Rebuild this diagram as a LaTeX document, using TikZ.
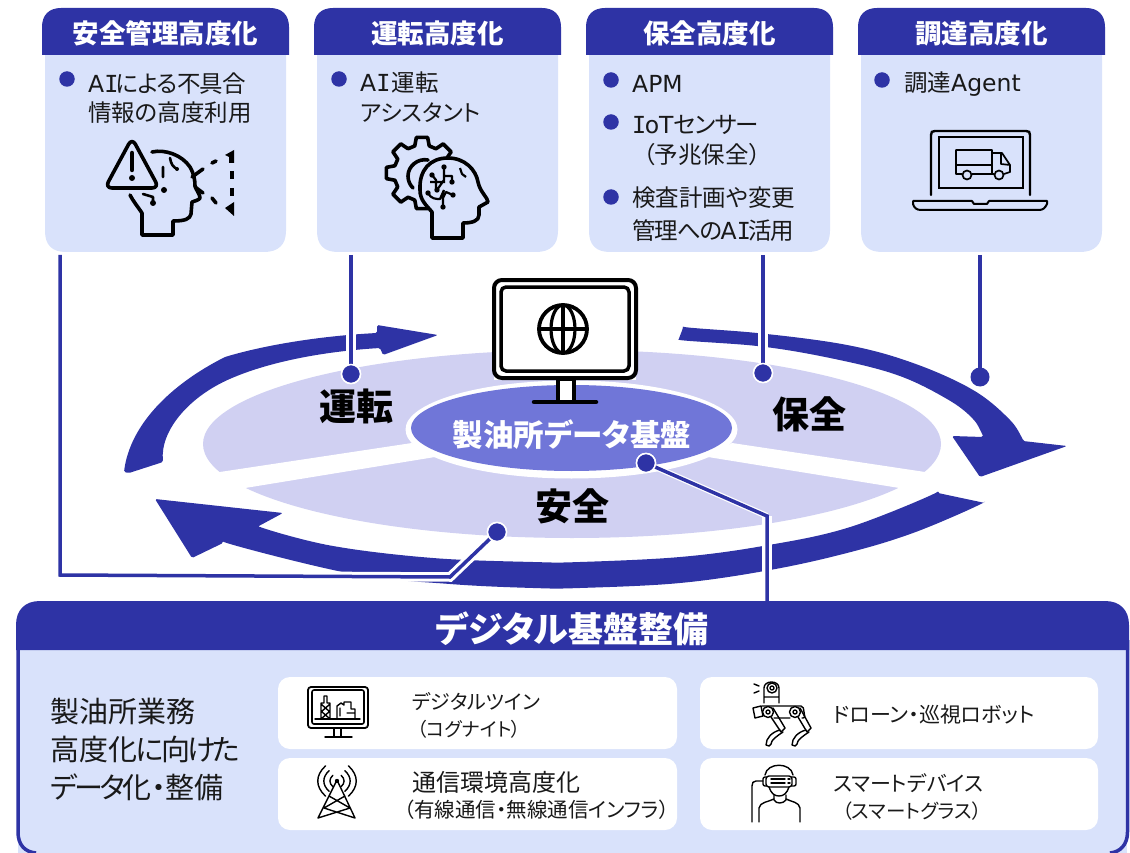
\documentclass[tikz,border=0pt]{standalone}
\usepackage{fontspec}
\setmainfont[RawFeature={+palt}]{Noto Sans CJK JP}
\newfontfamily\lat{DejaVu Sans}
\newfontfamily\latm{DejaVu Sans Mono}
\newcommand{\VI}{{\latm I}\kern-1.5pt}
\definecolor{navy}{HTML}{2E33A5}
\definecolor{pale}{HTML}{D9E2FB}
\definecolor{lav}{HTML}{D0D0F2}
\definecolor{mid}{HTML}{7076D8}
\newcommand{\fs}[1]{\fontsize{#1}{#1}\selectfont}
\tikzset{
  headtxt/.style={text=white,font=\fs{26.5}\bfseries,inner sep=0pt},
  bodytxt/.style={anchor=west,text=black!90,font=\fs{23.5},inner sep=0pt},
  smalltxt/.style={anchor=west,text=black!90,font=\fs{21},inner sep=0pt},
  bigtxt/.style={anchor=west,text=black!90,font=\fs{29},inner sep=0pt},
  bullet/.style={circle,fill=navy,minimum size=15.5pt,inner sep=0pt},
  pin/.style={circle,fill=navy,draw=white,line width=1.5pt,minimum size=19pt,inner sep=0pt},
  link/.style={draw=navy,line width=3.5pt},
  halo/.style={draw=white,line width=9.5pt},
  iconline/.style={draw=black,line width=3.6pt,line join=round,line cap=round},
  thinicon/.style={draw=black,line width=1.4pt,line join=round,line cap=round},
  seclabel/.style={font=\fs{37}\bfseries,inner sep=0pt,text=black},
}
\newcommand{\card}[3]{%
  \fill[pale] (#1+3,50) -- (#1+3,231) .. controls (#1+3,245) and (#1+10,252) .. (#1+24,252) -- (#1+222,252) .. controls (#1+236,252) and (#1+244,245) .. (#1+244,231) -- (#1+244,50) -- cycle;
  \fill[navy] (#1,55) -- (#1,27) .. controls (#1,15) and (#1+7,8) .. (#1+19,8) -- (#1+228,8) .. controls (#1+240,8) and (#1+247,15) .. (#1+247,27) -- (#1+247,55) -- cycle;
  \node[headtxt] (#2) at (#1+123.5,33) {#3};
}
\begin{document}
\begin{tikzpicture}[x=1pt,y=-1pt]
\useasboundingbox (0,0) rectangle (1130,853);
% disc
\fill[lav] (572,444) ellipse [x radius=369,y radius=94];
\fill[white] (412,443) -- (190,476.5) -- (190,497) -- (435,457) -- cycle;
\fill[white] (732,443) -- (955,476.5) -- (955,497) -- (708,457) -- cycle;
% ring arrows
\fill[navy,rounded corners=1.5pt] (124,472) .. controls (130,425) and (170,385) .. (225,357) .. controls (265,345) and (320,336) .. (377,333) -- (377,325) -- (438,335) -- (383,355) -- (380,348) .. controls (330,351) and (275,360) .. (232,378) .. controls (190,396) and (160,430) .. (163,462) -- (129,473) -- cycle;
\fill[navy,rounded corners=1.5pt] (683,328) -- plot[smooth,tension=.6] coordinates {(683,328) (757,333) (847,345) (913,363) (973,390) (1010,420) (1023,441)} -- (1067,446) -- (980,477) -- (952,436) -- (983,437) -- plot[smooth,tension=.6] coordinates {(983,437) (973,419) (947,399) (897,375) (830,358) (757,346) (678,341)} -- cycle;
\fill[navy,rounded corners=1.5pt] (938,493) -- (985,503) -- plot[smooth,tension=.6] coordinates {(985,503) (913,533) (847,553) (770,570) (680,583) (580,588) (533,588) (450,584) (353,574) (223,543)} -- (192,558) -- (155,499) -- (283,513) -- (257,527) -- plot[smooth,tension=.6] coordinates {(257,527) (333,546) (433,558) (533,562) (580,562) (680,557) (763,546) (847,528) (938,493)} -- cycle;
% centre
\fill[white] (571.5,429.5) ellipse [x radius=166,y radius=49];
\fill[mid] (571.5,428) ellipse [x radius=160.5,y radius=43];
% monitor
\fill[white] (494,278) rectangle (636,380);
\draw[black,line width=4pt,rounded corners=8pt] (494,280) rectangle (636,378);
\draw[black,line width=3.5pt,rounded corners=5pt] (501,287) rectangle (629,371);
\draw[black,line width=3.5pt,fill=white] (558,379) rectangle (574,402);
\draw[black,line width=4.5pt,line cap=round] (534,402) -- (596,402);
\draw[black,line width=3.8pt] (563,329) circle [radius=24];
\draw[black,line width=3.2pt] (563,329) ellipse [x radius=12,y radius=24];
\draw[black,line width=3.2pt] (563,305) -- (563,353) (539,329) -- (587,329);
% labels on the disc
\node[seclabel] (lunten) at (356,406) {運転};
\node[seclabel] (lhozen) at (809,414) {保全};
\node[seclabel] (lanzen) at (572,506) {安全};
\node[font=\fs{30.5}\bfseries,text=white,inner sep=0pt] (lkiban) at (572,435) {製油所データ基盤};
% cards
\card{42}{hA}{安全管理高度化}
\card{314}{hB}{運転高度化}
\card{586}{hC}{保全高度化}
\card{858}{hD}{調達高度化}
\node[bullet] (bA) at (67,79) {};
\node[bullet] (bB) at (339,79) {};
\node[bullet] (bC) at (611,80) {};
\node[bullet] (bD) at (611,122) {};
\node[bullet] (bE) at (611,197) {};
\node[bullet] (bF) at (882,80) {};
\node[bodytxt] (tA1) at (88,84) {{\lat A}\VI\kern-1pt に\kern-1pt よ\kern-1pt る\kern-1pt 不\kern-1pt 具\kern-1pt 合};
\node[bodytxt] (tA2) at (88,113) {情報の高度利用};
\node[bodytxt] (tB1) at (360,83) {{\lat A}\VI\kern3pt 運転};
\node[bodytxt,font=\fs{23}] (tB2) at (360,113) {アシスタント};
\node[bodytxt] (tC1) at (632,84) {\lat APM};
\node[bodytxt] (tC2) at (632,125) {\VI{\lat oT}セ\kern-1pt ン\kern-1pt サ\kern-1pt ー};
\node[bodytxt] (tC3) at (643,155) {（予兆保全）};
\node[bodytxt] (tC4) at (632,198) {検査計画や変更};
\node[bodytxt] (tC5) at (632,231) {管\kern-1pt 理\kern-1pt へ\kern-1.5pt の\kern-1.5pt {\lat A}\VI\kern-1pt 活\kern-1pt 用};
\node[bodytxt] (tD1) at (904,84) {調達{\lat Agent}};
% connectors
\coordinate (cA) at (60,255);
\coordinate (cB) at (351,255);
\coordinate (cC) at (763,255);
\coordinate (cD) at (980,255);
\coordinate (kA1) at (60,575);
\coordinate (kA2) at (450,577);
\coordinate (kE1) at (767,516);
\coordinate (panelTop) at (767,604);
\node[pin] (pB) at (351,374) {};
\node[pin] (pC) at (763,373) {};
\node[pin] (pD) at (980,377) {};
\node[pin] (pA) at (497,532) {};
\node[pin] (pE) at (646,463) {};
\path[halo] (pB) -- (cB);
\path[halo] (pC) -- (cC);
\path[halo] (cA) -- (kA1) -- (kA2) -- (pA);
\path[halo,line width=6pt] (pE) -- (kE1);
\path[halo] (kE1) -- (panelTop);
\path[link] (cA) -- (kA1) -- (kA2) -- (pA.center);
\path[link] (cB) -- (pB.center);
\path[link] (cC) -- (pC.center);
\path[link] (cD) -- (pD.center);
\path[link] (pE.center) -- (kE1) -- (panelTop);
\node[pin] at (pB) {};
\node[pin] at (pC) {};
\node[circle,fill=navy,minimum size=19pt,inner sep=0pt] at (pD) {};
\node[pin] at (pA) {};
\node[pin] at (pE) {};
% icon: alert head
\draw[iconline,rounded corners=7pt] (132,138) -- (105,188) -- (159,188) -- cycle;
\draw[iconline,line width=4.5pt] (132,153) -- (132,170);
\fill[black] (132,178) circle [radius=3];
\draw[iconline] (152,152) .. controls (165,149) and (182,155) .. (190,167) .. controls (194,174) and (195,180) .. (195,186) .. controls (196,190) and (200,194) .. (200,198) .. controls (199,200) and (195,201) .. (192,202) -- (191,214) .. controls (190,219) and (185,221) .. (173,221) -- (173,235) -- (142,235) -- (142,213) .. controls (138,207) and (133,201) .. (130,195);
\draw[iconline] (192,177) -- (203,169) (195,187) -- (203,193) (212,163) -- (216,161) (212,198) -- (216,203);
\draw[iconline,line width=2.6pt] (170,158) .. controls (171,164) and (173,167) .. (177,169) (163,167) -- (163,177) (143,194) -- (153,197) -- (153,203);
\fill[black] (164,190) circle [radius=3] (153,203) circle [radius=3] (177,169) circle [radius=2];
\fill[black] (225,155) -- (234,150) -- (234,163) -- (229,163) -- (229,157) -- cycle (225,208) -- (234,202) -- (234,216) -- cycle;
\draw[black,line width=4.5pt] (232,171) -- (232,179) (232,188) -- (232,196);
% icon: gear head
\foreach \a in {45,90,135,180,225,270} {
  \draw[iconline] ({422+28*cos(\a-15)},{173-28*sin(\a-15)}) -- ({422+36*cos(\a-9)},{173-36*sin(\a-9)}) -- ({422+36*cos(\a+9)},{173-36*sin(\a+9)}) -- ({422+28*cos(\a+15)},{173-28*sin(\a+15)}) -- ({422+28*cos(\a+30)},{173-28*sin(\a+30)});
}
\fill[pale] (446,172) rectangle (470,215);
\draw[iconline] (428,160) .. controls (418,158) and (408,166) .. (408,176) .. controls (408,181) and (410,185) .. (413,188);
\draw[iconline,fill=pale] (432,238) -- (432,212) .. controls (426,205) and (420,200) .. (420,190) .. controls (419,170) and (430,158) .. (448,158) .. controls (465,158) and (476,170) .. (478,182) .. controls (480,192) and (488,198) .. (488,202) -- (479,207) -- (479,215) .. controls (479,221) and (472,223) .. (463,223) -- (463,238) -- cycle;
\draw[black,line width=2.2pt,line join=round] (444,167) -- (444,180) -- (437,190) (432,175) -- (436,180) -- (436,190) (428,193) .. controls (431,199) and (436,199) .. (440,199) -- (444,190) (453,195) -- (446,192) -- (443,198) -- (443,207) (444,176) -- (452,176) -- (452,182) (460,168) -- (462,174) -- (466,177) (430,182) -- (445,182);
\fill[black] (444,167) circle [radius=2.7] (432,175) circle [radius=2.7] (437,190) circle [radius=2.7] (428,193) circle [radius=2.7] (453,195) circle [radius=2.7] (443,207) circle [radius=2.7] (452,182) circle [radius=2.7];
% icon: laptop
\draw[black,line width=2.4pt,line cap=round] (931,195) -- (931,135) .. controls (931,132) and (932,131) .. (935,131) -- (1026,131) .. controls (1029,131) and (1030,132) .. (1030,135) -- (1030,195);
\draw[black,line width=2.4pt] (939,137) rectangle (1023,188);
\draw[black,line width=2pt,line join=round] (913,201) -- (972,201) -- (974,204) -- (987,204) -- (989,201) -- (1047,201) -- (1047,204) .. controls (1045,208) and (1043,210) .. (1039,210) -- (921,210) .. controls (917,210) and (914,208) .. (913,204) -- cycle;
\begin{scope}[xshift=-2pt]
\draw[black,line width=1.7pt,line join=round] (964,174) -- (958,174) -- (958,150) -- (994,150) -- (994,174) -- (974,174) (958,165) -- (994,165) (994,174) -- (996,174) (994,153) -- (1004,153) -- (1012,165) -- (1012,172) -- (1006,174) (1003,153) -- (1003,164) -- (1012,165);
\draw[black,line width=1.7pt] (969,175) circle [radius=4.5] (1001,175) circle [radius=4.5];
\end{scope}
% bottom panel
\fill[pale] (18,640) rectangle (1127,853);
\draw[navy,line width=3.5pt] (18,640) -- (18,832) .. controls (18,845) and (25,852) .. (36,853);
\draw[navy,line width=3.5pt] (1127.5,640) -- (1127.5,832) .. controls (1127.5,845) and (1120,852) .. (1110,853);
\fill[navy] (16,650) -- (16,625) .. controls (16,610) and (25,601) .. (40,601) -- (1105,601) .. controls (1120,601) and (1129,610) .. (1129,625) -- (1129,650) -- cycle;
\node[font=\fs{35}\bfseries,text=white,inner sep=0pt] (title) at (572,629) {デジタル基盤整備};
\node[bigtxt] (p1) at (50,711) {製油所業務};
\node[bigtxt] (p2) at (50,749) {高度化\kern-1pt に\kern-3pt 向\kern-3pt け\kern-3pt た};
\node[bigtxt] (p3) at (50,787) {デ\kern-3pt ー\kern-3pt タ\kern-3pt 化・整備};
\fill[white,rounded corners=12pt] (278,677) rectangle (677,749);
\fill[white,rounded corners=12pt] (278,758) rectangle (677,830);
\fill[white,rounded corners=12pt] (700,677) rectangle (1098,749);
\fill[white,rounded corners=12pt] (700,758) rectangle (1098,830);
\node[smalltxt,font=\fs{20}] (s1) at (412,702) {デジタルツイン};
\node[smalltxt,font=\fs{19}] (s2) at (417,729) {（コグナイト）};
\node[smalltxt,font=\fs{24}] (s3) at (412,782) {通信環境高度化};
\node[smalltxt,font=\fs{20.5}] (s4) at (404,810) {（有線通信・無線通信インフラ）};
\node[smalltxt] (s5) at (833,715) {ドローン・巡視ロボット};
\node[smalltxt] (s6) at (833,783) {スマートデバイス};
\node[smalltxt,font=\fs{19.5}] (s7) at (842,811) {（スマートグラス）};
% small monitor
\draw[thinicon,line width=1.8pt,rounded corners=3pt] (308,687) rectangle (368,728);
\draw[thinicon,line width=1.6pt,rounded corners=2pt] (312,690) rectangle (364,724);
\draw[thinicon] (334,728) -- (334,737) (341,728) -- (341,737) (325,737) -- (352,737);
\draw[thinicon] (315,719) -- (360,719);
\draw[thinicon] (321,719) -- (321,703) -- (324,703) -- (324,696) -- (327,696) -- (327,703) -- (330,703) -- (330,719) (321,704) -- (330,712) (330,704) -- (321,712) (321,711) -- (330,719) (330,711) -- (321,719);
\draw[thinicon] (337,719) -- (337,706) -- (341,703) -- (344,705) -- (344,702) -- (351,702) -- (351,709) -- (355,709) -- (355,719) (340,708) -- (340,716) (347,713) -- (354,713);
% tower
\draw[thinicon] (337,780) -- (318,818) (337,780) -- (355,818) (329,796) -- (350,808) (345,796) -- (324,808) (324,808) -- (355,818) (350,808) -- (318,818);
\fill[black] (337,781) circle [radius=2.2];
\foreach \r in {7,13,19} {
  \draw[thinicon] ({337-.6*\r},{781-.8*\r}) .. controls ({337-1.15*\r},{781-.3*\r}) and ({337-1.15*\r},{781+.3*\r}) .. ({337-.6*\r},{781+.8*\r});
  \draw[thinicon] ({337+.6*\r},{781-.8*\r}) .. controls ({337+1.15*\r},{781-.3*\r}) and ({337+1.15*\r},{781+.3*\r}) .. ({337+.6*\r},{781+.8*\r});
}
% robot
\draw[thinicon] (764,703) -- (764,688) .. controls (764,680) and (779,680) .. (779,688) -- (779,703) (764,697) -- (779,697);
\draw[thinicon] (772,688) circle [radius=5] (772,688) circle [radius=2];
\draw[thinicon] (754,684) -- (759,686) (754,693) -- (759,691);
\draw[thinicon,rounded corners=2pt] (762,706) -- (803,706) -- (805,718) -- (802,718) (774,718) -- (790,718);
\draw[thinicon] (753,708) -- (761,706) -- (763,716) -- (755,718) -- cycle;
\draw[thinicon] (768,712) circle [radius=5.5] (768,712) circle [radius=2];
\draw[thinicon] (795,712) circle [radius=5.5] (795,712) circle [radius=2];
\draw[thinicon] (771,717) -- (781,732) -- (785,728) -- (773,708);
\draw[thinicon] (798,717) -- (807,732) -- (811,728) -- (800,708);
\draw[thinicon] (780,730) .. controls (772,732) and (766,738) .. (766,745) .. controls (768,747) and (771,746) .. (771,744) .. controls (771,740) and (777,736) .. (783,732);
\draw[thinicon] (806,730) .. controls (798,732) and (792,738) .. (792,745) .. controls (794,747) and (797,746) .. (797,744) .. controls (797,740) and (803,736) .. (809,732);
% smart glasses person
\draw[thinicon] (765,775) .. controls (767,762) and (791,762) .. (793,775);
\draw[thinicon,rounded corners=3pt] (766,776) rectangle (792,787);
\draw[thinicon,rounded corners=2pt] (766,777) -- (763,777) -- (763,786) -- (766,786) (792,777) -- (796,777) -- (796,786) -- (792,786);
\draw[thinicon] (771,779) -- (785,779) (771,783) -- (785,783) (788,779) -- (790,779) (788,783) -- (790,783);
\draw[thinicon] (769,787) .. controls (771,793) and (774,796) .. (779,796) .. controls (784,796) and (787,793) .. (789,787);
\draw[thinicon] (774,795) -- (774,800) .. controls (776,804) and (783,804) .. (786,800) -- (786,795);
\draw[thinicon] (759,822) -- (759,808) .. controls (760,802) and (768,802) .. (774,799) (800,822) -- (800,808) .. controls (799,802) and (792,802) .. (786,799);
\draw[thinicon] (763,781) -- (756,781) .. controls (753,781) and (752,783) .. (752,786) -- (752,822);
\end{tikzpicture}
\end{document}
